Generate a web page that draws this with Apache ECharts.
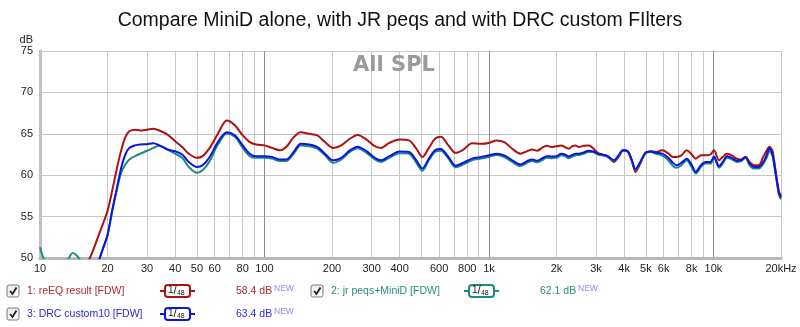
<!DOCTYPE html>
<html>
<head>
<meta charset="utf-8">
<script src="https://cdn.jsdelivr.net/npm/echarts@6/dist/echarts.min.js"></script>
<style>
  html, body { margin: 0; padding: 0; background: #ffffff; }
  #chart { width: 800px; height: 327px; }
</style>
</head>
<body>
<div id="chart"></div>
<script>
// Frequency points (Hz) shared by the three measurements
const freqHz = [
  10, 10.5, 11, 12, 13, 14, 15, 16, 17, 18,
  19, 20, 21, 22, 23, 24, 25, 26.5, 28, 30,
  32, 34, 37, 40, 43, 46, 50, 53, 57, 62,
  68, 74, 80, 86, 92, 100, 108, 117, 125, 135,
  145, 158, 172, 186, 202, 220, 240, 260, 285, 310,
  330, 360, 400, 440, 475, 505, 540, 575, 610, 660,
  710, 770, 840, 920, 1000, 1080, 1170, 1270, 1380, 1480,
  1560, 1640, 1720, 1810, 1900, 2000, 2100, 2180, 2270, 2350,
  2430, 2520, 2640, 2780, 2900, 3050, 3200, 3380, 3600, 3780,
  3950, 4150, 4320, 4500, 4700, 4970, 5250, 5550, 5900, 6250,
  6600, 6850, 7200, 7600, 7950, 8350, 8800, 9200, 9700, 10050,
  10600, 11000, 11500, 12100, 12700, 13300, 13900, 14500, 15200, 15900,
  16600, 17200, 17750, 18300, 18700, 19100, 19600, 20000
];

// 1: reEQ result [FDW]  (dB SPL)
const reEqResult = [
  44, 44.2, 44.5, 45, 45.5, 46.5, 47.5, 49, 50.5, 52.3,
  54, 55.7, 58.2, 60.8, 63.0, 64.6, 65.3, 65.5, 65.4, 65.5,
  65.6, 65.4, 64.9, 64.1, 63.4, 62.6, 62.1, 62.3, 63.3, 65.0,
  66.6, 66.0, 64.8, 64.0, 63.7, 63.6, 63.3, 63.0, 63.4, 64.6,
  65.2, 65.0, 64.8, 64.0, 63.3, 63.6, 64.4, 64.85, 64.3, 63.5,
  63.3, 63.9, 64.3, 64.2, 63.2, 62.2, 63.3, 64.4, 64.65, 63.6,
  62.7, 63.1, 63.85, 63.8, 63.9, 64.2, 64.0, 63.2, 62.6, 62.9,
  63.1, 62.95, 63.3, 63.55, 63.4, 63.5, 63.6, 63.4, 63.2, 63.5,
  63.6, 63.4, 63.55, 63.6, 63.3, 62.7, 62.5, 62.3, 61.6, 62.2,
  63.0, 62.9, 61.8, 60.4, 61.3, 62.6, 62.9, 62.8, 63.0, 62.7,
  62.2, 62.2, 62.4, 63.0, 62.6, 62.0, 62.4, 62.4, 62.5, 63.0,
  61.8, 62.2, 62.6, 62.4, 62.0, 61.9, 62.2, 61.6, 61.2, 61.2,
  62.1, 62.9, 63.45, 63.0, 61.5, 59.8, 58.0, 57.5
];

// 2: jr peqs+MiniD [FDW]
const jrPeqsMiniD = [
  51.3, 49.6, 48.9, 48.6, 49.3, 50.6, 49.9, 48.6, 48.4, 49.2,
  51.0, 52.8, 55.8, 58.3, 60.3, 61.3, 61.9, 62.3, 62.6, 62.95,
  63.3, 63.55, 63.1, 62.6, 62.1, 61.0, 60.3, 60.6, 61.7, 63.7,
  65.05, 64.6, 63.3, 62.3, 62.1, 62.1, 62.0, 61.7, 61.7, 62.6,
  63.6, 63.5, 63.2, 62.4, 61.5, 61.9, 62.8, 63.25, 62.7, 61.9,
  61.6, 62.1, 62.65, 62.6, 61.5, 60.55, 61.8, 62.8, 62.95, 62.0,
  60.95, 61.3, 61.8, 62.0, 62.2, 62.45, 62.2, 61.6, 61.1, 61.5,
  61.7, 61.55, 61.8, 62.1, 62.05, 62.1, 62.4, 62.3, 62.05, 62.25,
  62.4, 62.45, 62.6, 62.8, 62.8, 62.5, 62.4, 62.2, 61.7, 62.3,
  62.95, 62.85, 61.8, 60.6, 61.4, 62.6, 62.8, 62.6, 62.4, 61.9,
  61.1, 60.9, 61.2, 61.8, 61.1, 60.2, 61.0, 61.4, 61.4, 62.1,
  60.9, 61.4, 62.1, 61.9, 61.6, 61.7, 62.1, 61.2, 60.8, 60.8,
  61.3, 62.0, 62.9, 62.4, 61.0, 59.4, 57.6, 57.1
];

// 3: DRC custom10 [FDW]
const drcCustom10 = [
  42, 42.2, 42.5, 43, 43.5, 44, 45, 46, 47.5, 49.2,
  51, 52.8, 55.8, 58.4, 60.9, 62.5, 63.3, 63.6, 63.7, 63.75,
  63.85, 63.6, 63.1, 62.9, 62.5, 61.6, 61.0, 61.2, 62.2, 64.0,
  65.2, 64.8, 63.6, 62.6, 62.3, 62.3, 62.2, 61.9, 61.9, 62.8,
  63.8, 63.7, 63.4, 62.6, 61.8, 62.1, 63.0, 63.45, 62.9, 62.1,
  61.8, 62.3, 62.85, 62.8, 61.8, 60.8, 62.0, 63.0, 63.15, 62.2,
  61.15, 61.5, 62.0, 62.2, 62.4, 62.6, 62.4, 61.8, 61.3, 61.7,
  61.9, 61.75, 62.0, 62.3, 62.25, 62.3, 62.6, 62.5, 62.25, 62.45,
  62.6, 62.6, 62.75, 62.95, 62.9, 62.6, 62.5, 62.3, 61.8, 62.4,
  63.0, 62.9, 61.9, 60.7, 61.5, 62.7, 62.85, 62.7, 62.6, 62.2,
  61.5, 61.2, 61.5, 62.0, 61.4, 60.4, 61.2, 61.6, 61.6, 62.25,
  61.1, 61.6, 62.3, 62.1, 61.75, 61.8, 62.2, 61.4, 61.0, 61.0,
  61.5, 62.3, 63.25, 62.6, 61.2, 59.6, 57.8, 57.3
];

// Axis ticks
const gridHz = [
  10, 20, 30, 40, 50, 60, 70, 80, 90,
  100, 200, 300, 400, 500, 600, 700, 800, 900,
  1000, 2000, 3000, 4000, 5000, 6000, 7000, 8000, 9000,
  10000, 20000
];
const labelHz = [10, 20, 30, 40, 50, 60, 80, 100, 200, 300, 400, 600, 800,
  1000, 2000, 3000, 4000, 5000, 6000, 8000, 10000, 20000];
const decadeHz = [100, 1000, 10000];
const dbMin = 50, dbMax = 75, dbStep = 5;

// Legend rows
const traceNames = ['1: reEQ result [FDW]', '2: jr peqs+MiniD [FDW]', '3: DRC custom10 [FDW]'];
const traceLevels = ['58.4 dB', '62.1 dB', '63.4 dB'];
const smoothing = ['48', '48', '48'];

const lineColors = ['#b01010', '#1a8a82', '#0a14e0'];
const textColors = ['#b02a2a', '#2a8a82', '#2a2ad0'];
const FONT = '"Liberation Sans", Arial, sans-serif';

function freqLabel(v) {
  if (v >= 20000) return '20kHz';
  if (v >= 1000) return (v / 1000) + 'k';
  return String(v);
}

const pairs = arr => freqHz.map((f, i) => [f, arr[i]]);

function checkbox(x, y) {
  return {
    type: 'group', x: x, y: y,
    children: [
      { type: 'rect', shape: { x: 0, y: 0, width: 12, height: 12, r: 2 },
        style: { fill: new echarts.graphic.LinearGradient(0, 0, 1, 1, [
          { offset: 0, color: '#e8e8e8' }, { offset: 1, color: '#ffffff' }]),
          stroke: '#7a7a7a', lineWidth: 1 } },
      { type: 'polyline', shape: { points: [[3, 6], [5.5, 9], [9.5, 2.5]] },
        style: { stroke: '#222', lineWidth: 1.8, fill: null } }
    ]
  };
}

function badge(x, y, color, den) {
  return {
    type: 'group', x: x, y: y,
    children: [
      { type: 'line', shape: { x1: 0, y1: 0, x2: 5, y2: 0 }, style: { stroke: color, lineWidth: 2 } },
      { type: 'line', shape: { x1: 30, y1: 0, x2: 35, y2: 0 }, style: { stroke: color, lineWidth: 2 } },
      { type: 'rect', shape: { x: 5, y: -6, width: 25, height: 12, r: 3 },
        style: { fill: '#ffffff', stroke: color, lineWidth: 2 } },
      { type: 'text', x: 8, y: -6, style: {
          text: '{n|1}{s|/}{d|' + den + '}',
          rich: {
            n: { fontSize: 10, fontFamily: FONT, fill: '#222', verticalAlign: 'top' },
            s: { fontSize: 12, fontFamily: FONT, fill: '#222' },
            d: { fontSize: 7, fontFamily: FONT, fill: '#222', padding: [4, 0, 0, 0] }
          }
        } }
    ]
  };
}

function legendRow(i, x, y) {
  return [
    checkbox(x, y - 6),
    { type: 'text', x: x + 20, y: y, style: { text: traceNames[i], fontSize: 10.5, fontFamily: FONT,
        fill: textColors[i], verticalAlign: 'middle' } },
    badge(x + 153, y, lineColors[i], smoothing[i]),
    { type: 'text', x: x + 229, y: y, style: { text: traceLevels[i], fontSize: 10.5, fontFamily: FONT,
        fill: textColors[i], verticalAlign: 'middle' } },
    { type: 'text', x: x + 267, y: y - 2, style: { text: 'NEW', fontSize: 8.5, fontFamily: FONT,
        fill: '#8a8ae6', verticalAlign: 'middle' } }
  ];
}

const chart = echarts.init(document.getElementById('chart'), null, { renderer: 'canvas' });

chart.setOption({
  animation: false,
  backgroundColor: '#ffffff',
  title: {
    text: 'Compare MiniD alone, with JR peqs and with DRC custom FIlters',
    left: 'center', top: 6,
    textStyle: { fontFamily: FONT, fontSize: 19.5, fontWeight: 'normal', color: '#111' }
  },
  grid: { left: 40, right: 19, top: 51, bottom: 69 },
  xAxis: [
    {
      type: 'log', logBase: 10, min: 10, max: 20000,
      axisLine: { show: true, onZero: false, lineStyle: { color: '#b8b8b8', width: 3 } },
      axisTick: { show: false, customValues: gridHz },
      axisLabel: { customValues: labelHz, formatter: freqLabel, margin: 5,
        fontFamily: FONT, fontSize: 11, color: '#222' },
      splitLine: { show: true, lineStyle: { color: '#c6c6c6', width: 1 } }
    },
    {
      type: 'log', logBase: 10, min: 10, max: 20000, position: 'bottom',
      axisLine: { show: false },
      axisTick: { show: false, customValues: decadeHz },
      axisLabel: { show: false },
      splitLine: { show: true, lineStyle: { color: '#8c8c8c', width: 1 } }
    }
  ],
  yAxis: {
    type: 'value', min: dbMin, max: dbMax, interval: dbStep,
    name: 'dB', nameLocation: 'end', nameGap: 4,
    nameTextStyle: { fontFamily: FONT, fontSize: 11, color: '#222', align: 'right', padding: [0, 7, 0, 0] },
    axisLine: { show: true, lineStyle: { color: '#c0c0c0', width: 3 } },
    axisTick: { show: false },
    axisLabel: { margin: 7, fontFamily: FONT, fontSize: 11, color: '#222' },
    splitLine: { show: true, lineStyle: { color: '#c6c6c6', width: 1 } }
  },
  series: [
    { name: traceNames[0], type: 'line', data: pairs(reEqResult), showSymbol: false, smooth: 0.3,
      clip: true, lineStyle: { color: lineColors[0], width: 2 }, z: 2 },
    { name: traceNames[1], type: 'line', data: pairs(jrPeqsMiniD), showSymbol: false, smooth: 0.3,
      clip: true, lineStyle: { color: lineColors[1], width: 2 }, z: 3 },
    { name: traceNames[2], type: 'line', data: pairs(drcCustom10), showSymbol: false, smooth: 0.3,
      clip: true, lineStyle: { color: lineColors[2], width: 2 }, z: 4 }
  ],
  graphic: [
    { type: 'text', x: 394, y: 66, z: 10,
      style: { text: 'All SPL', fontFamily: '"DejaVu Sans", Verdana, sans-serif', fontSize: 21,
        fontWeight: 'bold', fill: '#9a9a9a', align: 'center', verticalAlign: 'middle' } }
  ].concat(legendRow(0, 7, 291), legendRow(1, 311, 291), legendRow(2, 7, 314))
});
</script>
</body>
</html>
